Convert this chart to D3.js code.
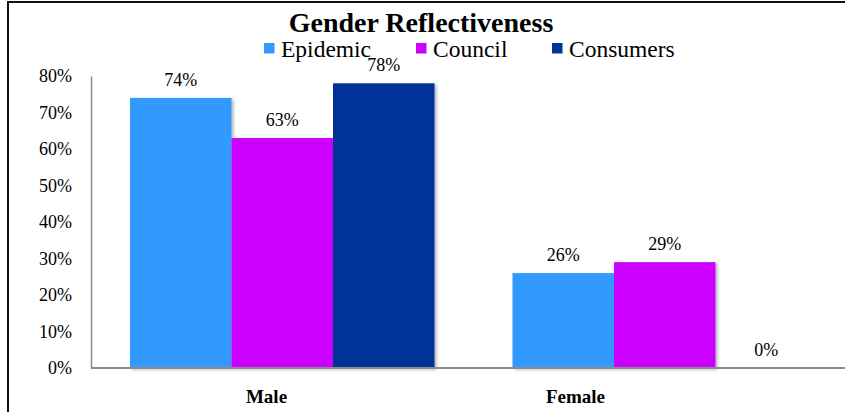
<!DOCTYPE html>
<html>
<head>
<meta charset="utf-8">
<script src="https://cdn.jsdelivr.net/npm/d3@7"></script>
<style>
  html, body { margin: 0; padding: 0; background: #fff; }
  svg { display: block; }
  svg text { font-family: "Liberation Serif", "Times New Roman", serif; }
</style>
</head>
<body>
<svg id="chart" width="845" height="412"></svg>
<script>
// Gender Reflectiveness — share of each group by gender
const categories = ["Male", "Female"];
const seriesNames = ["Epidemic", "Council", "Consumers"];
const epidemic = [74, 26];
const council = [63, 29];
const consumers = [78, 0];
const seriesColors = ["#3399FF", "#CC00FF", "#003399"];
const yTicks = [0, 10, 20, 30, 40, 50, 60, 70, 80];

const seriesValues = [epidemic, council, consumers];
const SERIF = "Liberation Serif";

const svg = d3.select("#chart");
const W = 845, H = 412;

// outer frame
svg.append("rect")
  .attr("x", 8).attr("y", 2)
  .attr("width", W + 20).attr("height", H + 20)
  .attr("fill", "none").attr("stroke", "#111").attr("stroke-width", 2);

// soft drop shadow under the bars
const defs = svg.append("defs");
const f = defs.append("filter").attr("id", "shadow")
  .attr("x", "-10%").attr("y", "-10%").attr("width", "130%").attr("height", "130%");
f.append("feDropShadow").attr("dx", 2).attr("dy", 1.5)
  .attr("stdDeviation", 1.5).attr("flood-color", "#000").attr("flood-opacity", 0.3);

const plot = { left: 91, right: 856, top: 76, bottom: 368 };

const y = d3.scaleLinear().domain([0, 80]).range([plot.bottom, plot.top]);
const x0 = d3.scaleBand().domain(categories).range([plot.left, plot.right])
  .paddingInner(0).paddingOuter(0);
const groupPad = 39;
const x1 = d3.scaleBand().domain(seriesNames)
  .range([groupPad, x0.bandwidth() - groupPad]).padding(0);
// category captions sit on their own band layout
const xLabel = d3.scaleBand().domain(categories).range([112, 730]);

// y axis (labels only, plus the grey axis line)
const yAxis = d3.axisLeft(y).tickValues(yTicks).tickFormat(d => d + "%").tickSize(0).tickPadding(19);
const gy = svg.append("g").attr("transform", `translate(${plot.left},0)`).call(yAxis)
  .attr("font-family", SERIF).attr("font-size", 18);
gy.select(".domain").attr("stroke", "#8c8c8c").attr("stroke-width", 1.5);
gy.selectAll("text").attr("fill", "#000");

// bars
const rows = [];
categories.forEach((c, i) => {
  seriesNames.forEach((s, j) => rows.push({ cat: c, series: s, value: seriesValues[j][i], color: seriesColors[j] }));
});

svg.append("g").attr("filter", "url(#shadow)")
  .selectAll("rect").data(rows.filter(d => d.value > 0)).join("rect")
  .attr("x", d => x0(d.cat) + x1(d.series))
  .attr("y", d => y(d.value))
  .attr("width", x1.bandwidth())
  .attr("height", d => y(0) - y(d.value))
  .attr("fill", d => d.color);

// x axis line
svg.append("line")
  .attr("x1", plot.left).attr("x2", W)
  .attr("y1", y(0)).attr("y2", y(0))
  .attr("stroke", "#8c8c8c").attr("stroke-width", 1.8);

// value labels
svg.append("g").attr("font-family", SERIF).attr("font-size", 18)
  .attr("text-anchor", "middle")
  .selectAll("text").data(rows).join("text")
  .attr("x", d => x0(d.cat) + x1(d.series) + x1.bandwidth() / 2)
  .attr("y", d => y(d.value) - 12)
  .attr("fill", "#000")
  .text(d => d.value + "%");

// category captions
svg.append("g").attr("font-family", SERIF).attr("font-size", 19)
  .attr("font-weight", "bold").attr("text-anchor", "middle")
  .selectAll("text").data(categories).join("text")
  .attr("x", d => xLabel(d) + xLabel.bandwidth() / 2)
  .attr("y", 403)
  .text(d => d);

// title
svg.append("g").attr("font-family", SERIF).attr("font-size", 28)
  .attr("font-weight", "bold").attr("text-anchor", "middle")
  .append("text")
  .attr("x", 421).attr("y", 31.5)
  .text("Gender Reflectiveness");

// legend
const legendX = [264, 416, 552];
const lg = svg.append("g").attr("font-family", SERIF).attr("font-size", 23.5)
  .selectAll("g").data(seriesNames).join("g")
  .attr("transform", (d, i) => `translate(${legendX[i]},0)`);
lg.append("rect").attr("x", 0).attr("y", 43).attr("width", 10.5).attr("height", 10.5)
  .attr("fill", (d, i) => seriesColors[i]);
lg.append("text").attr("x", 17).attr("y", 56.5)
  .attr("fill", "#000").text(d => d);
</script>
</body>
</html>
